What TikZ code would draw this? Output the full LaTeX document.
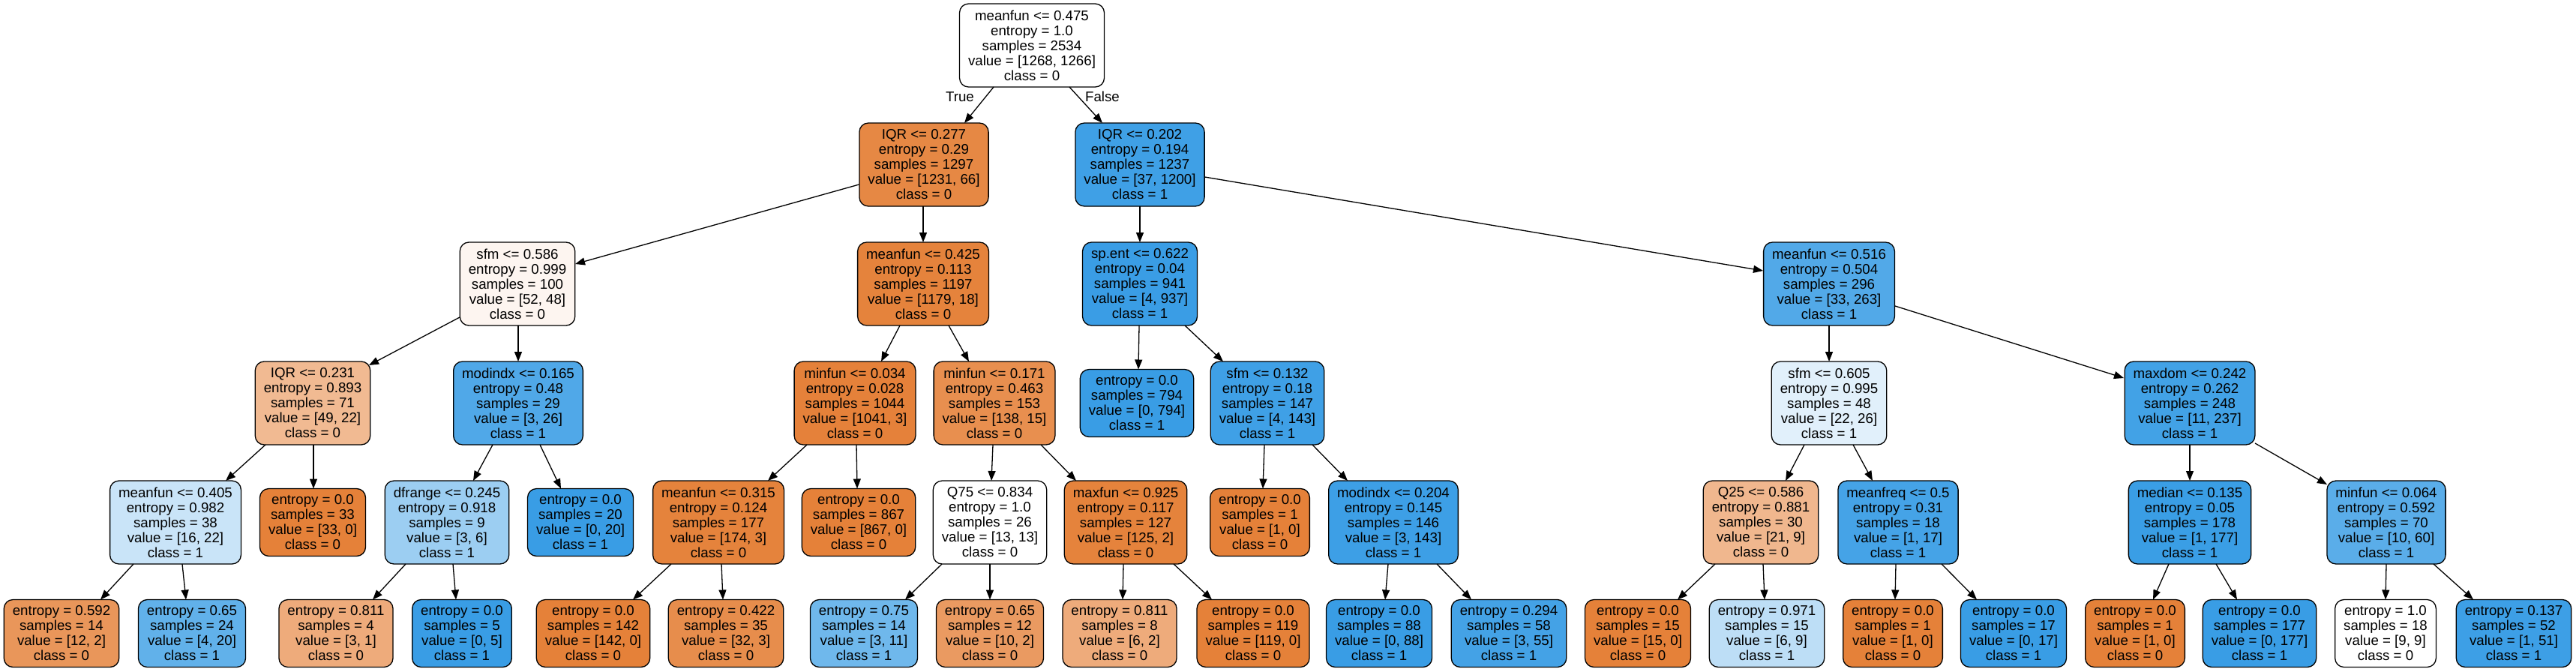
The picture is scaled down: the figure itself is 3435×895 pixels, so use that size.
\documentclass[tikz,border=0pt]{standalone}
\usepackage{fontspec}
\setmainfont{Liberation Sans}
\usetikzlibrary{arrows.meta,calc}
\definecolor{cO}{RGB}{229,129,57}
\definecolor{cB}{RGB}{57,157,229}
\newcommand{\dtfont}{\fontsize{18.7bp}{20bp}\selectfont}
\begin{document}
\begin{tikzpicture}[x=1bp,y=-1bp,
  nd/.style={draw=black, rounded corners=12bp, line width=1.3bp, align=center,
    inner xsep=11.5bp, inner ysep=0pt, font=\dtfont},
  split/.style={nd, minimum height=111bp},
  lf/.style={nd, minimum height=90bp},
  lbl/.style={font=\dtfont, inner sep=0pt},
  arr/.style={line width=1.3bp, draw=black, -{Triangle[length=13bp,width=10bp]}}]
\useasboundingbox (0,0) rectangle (3435,895);
% row 0
\node[split, fill=white] (root) at (1376,60.5) {meanfun <= 0.475\\entropy = 1.0\\samples = 2534\\value = [1268, 1266]\\class = 0};
% row 1
\node[split, fill=cO!94.6!white] (iqrA) at (1232,219.5) {IQR <= 0.277\\entropy = 0.29\\samples = 1297\\value = [1231, 66]\\class = 0};
\node[split, fill=cB!96.9!white] (iqrB) at (1520,219.5) {IQR <= 0.202\\entropy = 0.194\\samples = 1237\\value = [37, 1200]\\class = 1};
% row 2
\node[split, fill=cO!7.7!white] (sfmA) at (690,378.5) {sfm <= 0.586\\entropy = 0.999\\samples = 100\\value = [52, 48]\\class = 0};
\node[split, fill=cO!98.5!white] (mfB) at (1231,378.5) {meanfun <= 0.425\\entropy = 0.113\\samples = 1197\\value = [1179, 18]\\class = 0};
\node[split, fill=cB!99.6!white] (spent) at (1520,378.5) {sp.ent <= 0.622\\entropy = 0.04\\samples = 941\\value = [4, 937]\\class = 1};
\node[split, fill=cB!87.5!white] (mfC) at (2439,378.5) {meanfun <= 0.516\\entropy = 0.504\\samples = 296\\value = [33, 263]\\class = 1};
% row 3
\node[split, fill=cO!55.1!white] (iqrC) at (417,537.5) {IQR <= 0.231\\entropy = 0.893\\samples = 71\\value = [49, 22]\\class = 0};
\node[split, fill=cB!88.5!white] (modA) at (691,537.5) {modindx <= 0.165\\entropy = 0.48\\samples = 29\\value = [3, 26]\\class = 1};
\node[split, fill=cO!99.7!white] (minA) at (1140,537.5) {minfun <= 0.034\\entropy = 0.028\\samples = 1044\\value = [1041, 3]\\class = 0};
\node[split, fill=cO!89.1!white] (minB) at (1326,537.5) {minfun <= 0.171\\entropy = 0.463\\samples = 153\\value = [138, 15]\\class = 0};
\node[lf, fill=cB] (l794) at (1516,537.5) {entropy = 0.0\\samples = 794\\value = [0, 794]\\class = 1};
\node[split, fill=cB!97.2!white] (sfmB) at (1690,537.5) {sfm <= 0.132\\entropy = 0.18\\samples = 147\\value = [4, 143]\\class = 1};
\node[split, fill=cB!15.4!white] (sfmC) at (2439,537.5) {sfm <= 0.605\\entropy = 0.995\\samples = 48\\value = [22, 26]\\class = 1};
\node[split, fill=cB!95.4!white] (maxdom) at (2920,537.5) {maxdom <= 0.242\\entropy = 0.262\\samples = 248\\value = [11, 237]\\class = 1};
% row 4
\node[split, fill=cB!27.3!white] (mfD) at (234,696.5) {meanfun <= 0.405\\entropy = 0.982\\samples = 38\\value = [16, 22]\\class = 1};
\node[lf, fill=cO] (l33) at (417,696.5) {entropy = 0.0\\samples = 33\\value = [33, 0]\\class = 0};
\node[split, fill=cB!50!white] (dfr) at (596,696.5) {dfrange <= 0.245\\entropy = 0.918\\samples = 9\\value = [3, 6]\\class = 1};
\node[lf, fill=cB] (l20) at (774,696.5) {entropy = 0.0\\samples = 20\\value = [0, 20]\\class = 1};
\node[split, fill=cO!98.3!white] (mfE) at (958,696.5) {meanfun <= 0.315\\entropy = 0.124\\samples = 177\\value = [174, 3]\\class = 0};
\node[lf, fill=cO] (l867) at (1145,696.5) {entropy = 0.0\\samples = 867\\value = [867, 0]\\class = 0};
\node[split, fill=white] (q75) at (1320,696.5) {Q75 <= 0.834\\entropy = 1.0\\samples = 26\\value = [13, 13]\\class = 0};
\node[split, fill=cO!98.4!white] (maxfun) at (1501,696.5) {maxfun <= 0.925\\entropy = 0.117\\samples = 127\\value = [125, 2]\\class = 0};
\node[lf, fill=cO] (l1a) at (1680,696.5) {entropy = 0.0\\samples = 1\\value = [1, 0]\\class = 0};
\node[split, fill=cB!97.9!white] (modB) at (1858,696.5) {modindx <= 0.204\\entropy = 0.145\\samples = 146\\value = [3, 143]\\class = 1};
\node[split, fill=cO!57.1!white] (q25) at (2348,696.5) {Q25 <= 0.586\\entropy = 0.881\\samples = 30\\value = [21, 9]\\class = 0};
\node[split, fill=cB!94.1!white] (mfreq) at (2531,696.5) {meanfreq <= 0.5\\entropy = 0.31\\samples = 18\\value = [1, 17]\\class = 1};
\node[split, fill=cB!99.4!white] (median) at (2920,696.5) {median <= 0.135\\entropy = 0.05\\samples = 178\\value = [1, 177]\\class = 1};
\node[split, fill=cB!83.3!white] (minC) at (3182,696.5) {minfun <= 0.064\\entropy = 0.592\\samples = 70\\value = [10, 60]\\class = 1};
% row 5
\node[lf, fill=cO!83.3!white] (k1) at (82,844.5) {entropy = 0.592\\samples = 14\\value = [12, 2]\\class = 0};
\node[lf, fill=cB!80!white] (k2) at (256,844.5) {entropy = 0.65\\samples = 24\\value = [4, 20]\\class = 1};
\node[lf, fill=cO!66.7!white] (k3) at (448,844.5) {entropy = 0.811\\samples = 4\\value = [3, 1]\\class = 0};
\node[lf, fill=cB] (k4) at (616,844.5) {entropy = 0.0\\samples = 5\\value = [0, 5]\\class = 1};
\node[lf, fill=cO] (k5) at (791,844.5) {entropy = 0.0\\samples = 142\\value = [142, 0]\\class = 0};
\node[lf, fill=cO!90.6!white] (k6) at (968,844.5) {entropy = 0.422\\samples = 35\\value = [32, 3]\\class = 0};
\node[lf, fill=cB!72.7!white] (k7) at (1152,844.5) {entropy = 0.75\\samples = 14\\value = [3, 11]\\class = 1};
\node[lf, fill=cO!80!white] (k8) at (1320,844.5) {entropy = 0.65\\samples = 12\\value = [10, 2]\\class = 0};
\node[lf, fill=cO!66.7!white] (k9) at (1493,844.5) {entropy = 0.811\\samples = 8\\value = [6, 2]\\class = 0};
\node[lf, fill=cO] (k10) at (1671,844.5) {entropy = 0.0\\samples = 119\\value = [119, 0]\\class = 0};
\node[lf, fill=cB] (k11) at (1839,844.5) {entropy = 0.0\\samples = 88\\value = [0, 88]\\class = 1};
\node[lf, fill=cB!94.5!white] (k12) at (2012,844.5) {entropy = 0.294\\samples = 58\\value = [3, 55]\\class = 1};
\node[lf, fill=cO] (k13) at (2184,844.5) {entropy = 0.0\\samples = 15\\value = [15, 0]\\class = 0};
\node[lf, fill=cB!33.3!white] (k14) at (2356,844.5) {entropy = 0.971\\samples = 15\\value = [6, 9]\\class = 1};
\node[lf, fill=cO] (k15) at (2524,844.5) {entropy = 0.0\\samples = 1\\value = [1, 0]\\class = 0};
\node[lf, fill=cB] (k16) at (2685,844.5) {entropy = 0.0\\samples = 17\\value = [0, 17]\\class = 1};
\node[lf, fill=cO] (k17) at (2847,844.5) {entropy = 0.0\\samples = 1\\value = [1, 0]\\class = 0};
\node[lf, fill=cB] (k18) at (3013,844.5) {entropy = 0.0\\samples = 177\\value = [0, 177]\\class = 1};
\node[lf, fill=white] (k19) at (3181,844.5) {entropy = 1.0\\samples = 18\\value = [9, 9]\\class = 0};
\node[lf, fill=cB!98!white] (k20) at (3352,844.5) {entropy = 0.137\\samples = 52\\value = [1, 51]\\class = 1};
% labels
\node[lbl] (tl) at (1280,129) {True};
\node[lbl] (fl) at (1470,129) {False};
% edges
\draw[arr] ($(root)+(-51,55.5)$) -- ($(iqrA)+(54,-55.5)$);
\draw[arr] ($(root)+(50,55.5)$) -- ($(iqrB)+(-50,-55.5)$);
\draw[arr] ($(iqrA)+(-86.5,26.5)$) -- ($(sfmA)+(77,-26.5)$);
\draw[arr] ($(iqrA)+(-1,55.5)$) -- ($(mfB)+(0,-55.5)$);
\draw[arr] ($(iqrB)+(0,55.5)$) -- ($(spent)+(0,-55.5)$);
\draw[arr] ($(iqrB)+(86.5,16.5)$) -- ($(mfC)+(-88,-17.5)$);
\draw[arr] ($(sfmA)+(-77,44.5)$) -- ($(iqrC)+(75,-50.5)$);
\draw[arr] ($(sfmA)+(1,55.5)$) -- ($(modA)+(0,-55.5)$);
\draw[arr] ($(mfB)+(-31,55.5)$) -- ($(minA)+(35,-55.5)$);
\draw[arr] ($(mfB)+(34,55.5)$) -- ($(minB)+(-34,-55.5)$);
\draw[arr] ($(spent)+(-1,55.5)$) -- ($(l794)+(2,-45)$);
\draw[arr] ($(spent)+(60,55.5)$) -- ($(sfmB)+(-59,-55.5)$);
\draw[arr] ($(mfC)+(0,55.5)$) -- ($(sfmC)+(0,-55.5)$);
\draw[arr] ($(mfC)+(88,29.5)$) -- ($(maxdom)+(-88,-33.5)$);
\draw[arr] ($(iqrC)+(-63,55.5)$) -- ($(mfD)+(67,-55.5)$);
\draw[arr] ($(iqrC)+(1,55.5)$) -- ($(l33)+(1,-45)$);
\draw[arr] ($(modA)+(-34,55.5)$) -- ($(dfr)+(35,-55.5)$);
\draw[arr] ($(modA)+(29,55.5)$) -- ($(l20)+(-26,-45)$);
\draw[arr] ($(minA)+(-64,55.5)$) -- ($(mfE)+(66,-55.5)$);
\draw[arr] ($(minA)+(2,55.5)$) -- ($(l867)+(-2,-45)$);
\draw[arr] ($(minB)+(-2,55.5)$) -- ($(q75)+(2,-55.5)$);
\draw[arr] ($(minB)+(62,55.5)$) -- ($(maxfun)+(-66,-55.5)$);
\draw[arr] ($(sfmB)+(-4,55.5)$) -- ($(l1a)+(4,-45)$);
\draw[arr] ($(sfmB)+(60,55.5)$) -- ($(modB)+(-61,-55.5)$);
\draw[arr] ($(sfmC)+(-33,55.5)$) -- ($(q25)+(33,-55.5)$);
\draw[arr] ($(sfmC)+(32,55.5)$) -- ($(mfreq)+(-34,-55.5)$);
\draw[arr] ($(maxdom)+(0,55.5)$) -- ($(median)+(0,-55.5)$);
\draw[arr] ($(maxdom)+(87,53.5)$) -- ($(minC)+(-79,-50.5)$);
\draw[arr] ($(mfD)+(-56,55.5)$) -- ($(k1)+(52,-45)$);
\draw[arr] ($(mfD)+(9,55.5)$) -- ($(k2)+(-8,-45)$);
\draw[arr] ($(dfr)+(-55,55.5)$) -- ($(k3)+(49,-45)$);
\draw[arr] ($(dfr)+(8,55.5)$) -- ($(k4)+(-8,-45)$);
\draw[arr] ($(mfE)+(-63,55.5)$) -- ($(k5)+(53,-45)$);
\draw[arr] ($(mfE)+(4,55.5)$) -- ($(k6)+(-4,-45)$);
\draw[arr] ($(q75)+(-64,55.5)$) -- ($(k7)+(55,-45)$);
\draw[arr] ($(q75)+(0,55.5)$) -- ($(k8)+(0,-45)$);
\draw[arr] ($(maxfun)+(-3,55.5)$) -- ($(k9)+(4,-45)$);
\draw[arr] ($(maxfun)+(64,55.5)$) -- ($(k10)+(-55,-45)$);
\draw[arr] ($(modB)+(-7,55.5)$) -- ($(k11)+(8,-45)$);
\draw[arr] ($(modB)+(58,55.5)$) -- ($(k12)+(-50,-45)$);
\draw[arr] ($(q25)+(-61,55.5)$) -- ($(k13)+(53,-45)$);
\draw[arr] ($(q25)+(3,55.5)$) -- ($(k14)+(-3,-45)$);
\draw[arr] ($(mfreq)+(-3,55.5)$) -- ($(k15)+(3,-45)$);
\draw[arr] ($(mfreq)+(58,55.5)$) -- ($(k16)+(-49,-45)$);
\draw[arr] ($(median)+(-28,55.5)$) -- ($(k17)+(24,-45)$);
\draw[arr] ($(median)+(35,55.5)$) -- ($(k18)+(-30,-45)$);
\draw[arr] ($(minC)+(0,55.5)$) -- ($(k19)+(0,-45)$);
\draw[arr] ($(minC)+(63,55.5)$) -- ($(k20)+(-54,-45)$);
\end{tikzpicture}
\end{document}
